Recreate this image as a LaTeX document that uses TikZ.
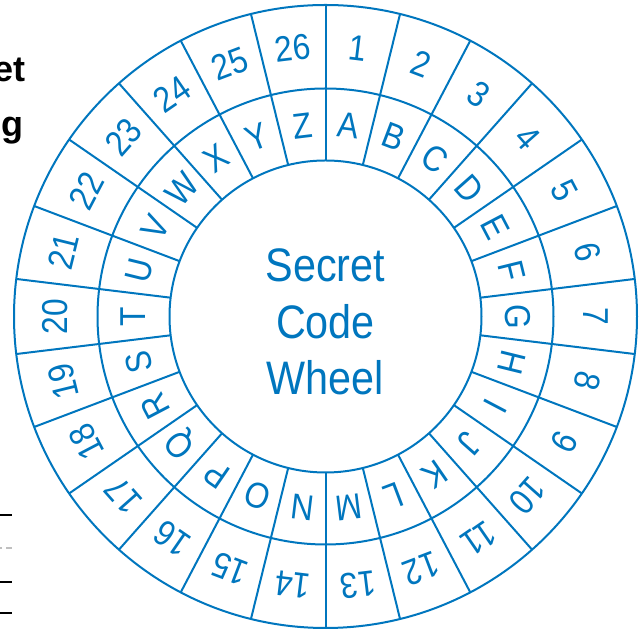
\documentclass[tikz,border=0pt]{standalone}
\usepackage{fontspec}
\setmainfont{Liberation Sans}
\newfontfamily\wheelfont[FakeStretch=0.88]{Liberation Sans}
\definecolor{wheelblue}{RGB}{0,118,190}

\begin{document}
\begin{tikzpicture}[
  x=1pt,
  y=1pt,
  ring/.style={draw=wheelblue, line width=2pt},
  spoke/.style={wheelblue, line width=2pt},
  numlabel/.style={text=wheelblue, inner sep=0pt, font=\wheelfont\fontsize{36}{36}\selectfont},
  letlabel/.style={text=wheelblue, inner sep=0pt, font=\wheelfont\fontsize{36}{36}\selectfont},
  title/.style={text=wheelblue, align=center, inner sep=0pt, font=\wheelfont\fontsize{47}{56.5}\selectfont},
  margintext/.style={anchor=base east, inner sep=0pt, font=\bfseries\fontsize{36}{36}\selectfont},
  rule/.style={black, line width=2pt},
  dashrule/.style={black!25, line width=2pt, dash pattern=on 2pt off 4pt on 6pt off 2pt}
]
\useasboundingbox (0,0) rectangle (641,631);

% cut-off text of the page
\node[margintext] (wordone) at (26,549) {et};
\node[margintext] (wordtwo) at (24,494) {g};
\draw[rule] (0,116) -- (12,116);
\draw[dashrule] (0,83) -- (12,83);
\draw[rule] (0,49) -- (12,49);
\draw[rule] (0,18) -- (12,18);

% wheel
\coordinate (c) at (325.5,314.5);
\draw[ring] (c) circle[radius=311.5];
\draw[ring] (c) circle[radius=228];
\draw[ring] (c) circle[radius=156];
\foreach \k in {0,...,25}
  \draw[spoke] ([shift={(90-\k*360/26:156)}]c) -- ([shift={(90-\k*360/26:311.5)}]c);

\foreach \n [count=\i] in {1,...,26} {
  \pgfmathsetmacro{\a}{90-(\i-0.5)*360/26}
  \node[numlabel, rotate=\a-90] (num\i) at ([shift={(\a:270)}]c) {\n};
}
\foreach \l [count=\i] in {A,B,C,D,E,F,G,H,I,J,K,L,M,N,O,P,Q,R,S,T,U,V,W,X,Y,Z} {
  \pgfmathsetmacro{\a}{90-(\i-0.5)*360/26}
  \node[letlabel, rotate=\a-90] (let\i) at ([shift={(\a:192)}]c) {\l};
}

\node[title] (name) at (325.5,309) {Secret\\Code\\Wheel};
\end{tikzpicture}
\end{document}
